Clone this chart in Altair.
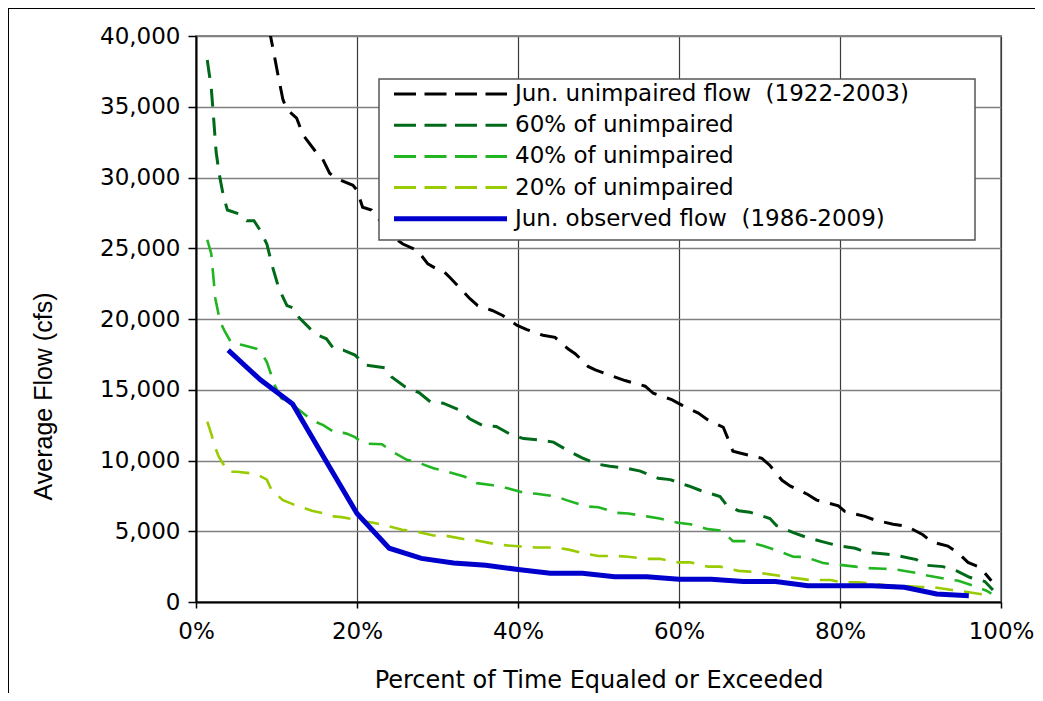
import altair as alt
import pandas as pd

# ---------------- data ----------------
unimp_x = [8.4, 9.6, 10.2, 10.8, 11.3, 12.5, 13.3, 14.9, 15.7, 16.6,
           17.6, 19.5, 20.0, 20.7, 21.8, 24.5, 25.7, 27.5, 28.8, 29.7,
           30.7, 31.6, 34.0, 35.0, 36.8, 38.1, 39.9, 41.1, 43.1, 44.6,
           46.2, 47.1, 48.7, 49.6, 51.8, 53.3, 55.8, 56.8, 59.1, 60.4,
           62.4, 63.5, 65.5, 66.0, 66.7, 67.8, 70.3, 71.3, 72.8, 73.8,
           76.0, 77.1, 79.8, 80.6, 83.1, 84.3, 86.6, 88.3, 90.3, 91.4,
           93.4, 94.7, 95.9, 97.4, 98.8]
unimp_y = [42500, 39000, 37200, 35500, 34800, 34200, 33000, 31800, 31350, 30300,
           29900, 29450, 29100, 27900, 27700, 25800, 25300, 24850, 23900, 23600,
           23400, 22900, 21450, 20950, 20600, 20250, 19550, 19250, 18850, 18700,
           17900, 17550, 16650, 16400, 15950, 15650, 15250, 14750, 14300, 13900,
           13350, 12900, 12350, 11650, 10650, 10500, 10150, 9650, 8600, 8200,
           7600, 7200, 6800, 6400, 6050, 5800, 5500, 5350, 4750, 4250,
           3950, 3450, 2800, 2450, 1500]

p60_x = [1.4, 1.9, 2.2, 2.5, 2.9, 3.4, 3.9, 5.5, 6.3, 7.2,
         8.0, 8.8, 9.5, 10.3, 10.8, 11.3, 12.2, 12.8, 14.2, 15.2,
         16.2, 17.1, 18.3, 19.75, 21.0, 23.5, 24.3, 26.0, 27.7, 29.1,
         30.7, 33.0, 34.0, 35.7, 37.3, 39.2, 40.7, 42.7, 44.4, 46.2,
         47.9, 49.8, 51.4, 53.5, 55.2, 57.4, 58.9, 61.2, 62.6, 65.1,
         65.9, 67.4, 68.8, 71.3, 72.1, 74.2, 75.7, 77.9, 79.6, 81.9,
         83.3, 85.6, 87.0, 89.5, 90.6, 92.8, 94.5, 96.1, 98.0, 99.0]
p60_y = [38300, 36300, 34100, 31800, 30200, 28700, 27700, 27400, 26950, 26950,
         26250, 25300, 23700, 22150, 21550, 20950, 20750, 20100, 19300, 18850,
         18600, 17900, 17800, 17450, 16750, 16550, 15900, 15200, 14800, 14150,
         14050, 13500, 12950, 12450, 12400, 11800, 11550, 11450, 11300, 10700,
         10200, 9750, 9600, 9450, 9250, 8750, 8650, 8200, 7900, 7450,
         6850, 6450, 6350, 5900, 5400, 4900, 4600, 4250, 4000, 3800,
         3500, 3400, 3300, 3000, 2600, 2500, 2200, 1750, 1450, 850]

p40_x = [1.4, 1.9, 2.4, 3.0, 3.6, 4.4, 5.9, 7.5, 8.2, 8.8,
         9.6, 9.8, 10.6, 11.7, 13.1, 14.4, 15.8, 17.3, 18.3, 18.7,
         19.75, 20.8, 23.1, 24.3, 26.2, 27.6, 29.5, 31.3, 33.4, 34.9,
         36.9, 38.6, 40.9, 42.3, 44.8, 46.0, 48.5, 50.0, 52.3, 53.7,
         56.0, 57.6, 59.9, 61.4, 63.6, 65.3, 66.7, 68.2, 70.5, 72.1,
         74.2, 75.7, 77.9, 79.6, 81.9, 83.3, 85.4, 87.0, 89.5, 91.0,
         93.0, 94.7, 96.6, 98.2, 98.8]
p40_y = [25600, 24600, 21450, 19800, 19100, 18300, 18150, 17900, 17550, 16950,
         15650, 15300, 14400, 14050, 13450, 12850, 12500, 11950, 11950, 11900,
         11650, 11200, 11150, 10650, 10050, 9850, 9450, 9200, 8850, 8400,
         8250, 8050, 7700, 7650, 7450, 7200, 6750, 6700, 6300, 6250,
         6050, 5900, 5600, 5500, 5150, 5050, 4300, 4300, 3950, 3650,
         3200, 3180, 2750, 2650, 2500, 2400, 2350, 2300, 2050, 1850,
         1650, 1500, 1150, 800, 600]

p20_x = [1.4, 1.95, 2.2, 2.8, 3.6, 4.0, 5.1, 6.7, 7.5, 8.8,
         9.4, 10.8, 12.1, 14.4, 16.0, 17.1, 18.1, 20.0, 22.0, 23.3,
         25.6, 27.2, 29.5, 30.9, 33.2, 34.9, 37.1, 38.6, 40.9, 42.3,
         44.8, 46.3, 48.5, 50.0, 52.3, 53.7, 56.0, 57.6, 59.9, 61.4,
         63.6, 65.1, 67.4, 68.8, 71.3, 72.5, 75.0, 76.3, 78.8, 80.2,
         82.3, 83.9, 86.2, 87.9, 90.1, 91.6, 93.9, 95.3, 97.6, 98.8]
p20_y = [12750, 11800, 11200, 10300, 9550, 9200, 9200, 9100, 9050, 8650,
         7900, 7200, 6900, 6450, 6250, 6050, 6000, 5800, 5600, 5450,
         5100, 5000, 4700, 4700, 4450, 4350, 4100, 4000, 3900, 3850,
         3850, 3700, 3400, 3250, 3250, 3200, 3050, 3050, 2800, 2800,
         2500, 2500, 2200, 2150, 1950, 1850, 1650, 1550, 1550, 1400,
         1400, 1300, 1150, 1150, 1050, 1050, 850, 750, 550, 500]

obs_x = [4, 8, 12, 16, 20, 24, 28, 32, 36, 40, 44, 48,
         52, 56, 60, 64, 68, 72, 76, 80, 84, 88, 92, 96]
obs_y = [17800, 15700, 14000, 10100, 6250, 3800, 3080, 2750, 2600, 2300, 2030, 2030,
         1790, 1790, 1600, 1600, 1450, 1450, 1150, 1150, 1150, 1040, 570, 450]

labels = ["Jun. unimpaired flow\u00a0 (1922-2003)",
          "60% of unimpaired",
          "40% of unimpaired",
          "20% of unimpaired",
          "Jun. observed flow\u00a0 (1986-2009)"]
colors = ["#000000", "#006a1a", "#22b522", "#99cc00", "#0000cc"]

y_ticks = [0, 5000, 10000, 15000, 20000, 25000, 30000, 35000, 40000]
x_ticks = [0, 20, 40, 60, 80, 100]

FONT = "DejaVu Sans"

# ---------------- encodings ----------------
x_enc = alt.X("pct:Q",
              scale=alt.Scale(domain=[0, 100], nice=False),
              axis=alt.Axis(values=x_ticks, labelExpr="datum.value + '%'",
                            title="Percent of Time Equaled or Exceeded",
                            grid=True, gridColor="#3a3a3a", gridWidth=1.2,
                            domainColor="#000", domainWidth=2,
                            tickColor="#000", tickSize=6, tickWidth=1.5,
                            labelFont=FONT, labelFontSize=23, labelColor="#000",
                            labelPadding=12, labelFlush=False,
                            titleFont=FONT, titleFontSize=24, titleFontWeight="normal",
                            titleColor="#000", titleBaseline="alphabetic", titleY=85))
y_enc = alt.Y("flow:Q",
              scale=alt.Scale(domain=[0, 40000], nice=False),
              axis=alt.Axis(values=y_ticks, format=",.0f",
                            title="Average Flow (cfs)",
                            grid=True, gridColor="#808080", gridWidth=1.6,
                            domainColor="#000", domainWidth=2,
                            tickColor="#000", tickSize=8, tickWidth=1.5,
                            labelFont=FONT, labelFontSize=23, labelColor="#000",
                            labelPadding=8,
                            titleFont="Liberation Sans Narrow, Liberation Sans", titleFontSize=25,
                            titleFontWeight="normal", titleColor="#000",
                            titleX=-140, titleY=360, titleAngle=270,
                            titleAlign="center", titleBaseline="bottom"))

def line_layer(xs, ys, color, dash, width):
    df = pd.DataFrame({"pct": xs, "flow": ys, "ord": list(range(len(xs)))})
    mk = dict(color=color, strokeWidth=width, clip=True)
    if dash:
        mk["strokeDash"] = dash
    return alt.Chart(df).mark_line(**mk).encode(x=x_enc, y=y_enc, order="ord:Q")

layers = [
    line_layer(p20_x, p20_y, colors[3], [18, 11], 2.6),
    line_layer(p40_x, p40_y, colors[2], [18, 11], 2.6),
    line_layer(p60_x, p60_y, colors[1], [18, 11], 3),
    line_layer(unimp_x, unimp_y, colors[0], [18, 11], 3),
    line_layer(obs_x, obs_y, colors[4], None, 5),
]

# ---------------- manual legend box ----------------
dummy = pd.DataFrame({"a": [0]})
layers.append(
    alt.Chart(dummy).mark_rect(fill="white", stroke="#555", strokeWidth=1.5).encode(
        x=alt.value(183), x2=alt.value(779), y=alt.value(43), y2=alt.value(204)))
for i, (lab, col) in enumerate(zip(labels, colors)):
    yy = 58 + i * 31.2
    rule_kw = dict(color=col, strokeWidth=5 if i == 4 else 3)
    if i < 4:
        rule_kw["strokeDash"] = [22, 8.5]
    layers.append(alt.Chart(dummy).mark_rule(**rule_kw).encode(
        x=alt.value(198), x2=alt.value(311), y=alt.value(yy)))
    layers.append(alt.Chart(dummy).mark_text(
        text=lab, align="left", baseline="middle", font=FONT, fontSize=23,
        color="#000").encode(x=alt.value(319), y=alt.value(yy)))

# ---------------- outer frame (top and left edges) ----------------
layers.append(alt.Chart(dummy).mark_rule(color="#000", strokeWidth=1).encode(
    x=alt.value(-188), x2=alt.value(839), y=alt.value(-27.5)))
layers.append(alt.Chart(dummy).mark_rule(color="#000", strokeWidth=1).encode(
    x=alt.value(-187.5), y=alt.value(-28), y2=alt.value(657)))

chart = alt.layer(*layers).properties(
    width=805, height=566,
    autosize=alt.AutoSizeParams(type="none"),
    padding={"left": 188, "top": 28, "right": 34, "bottom": 91},
    background="white",
).configure_view(stroke="#888", strokeWidth=2)

chart.save("out.html", embed_options={"renderer": "svg", "actions": False})
